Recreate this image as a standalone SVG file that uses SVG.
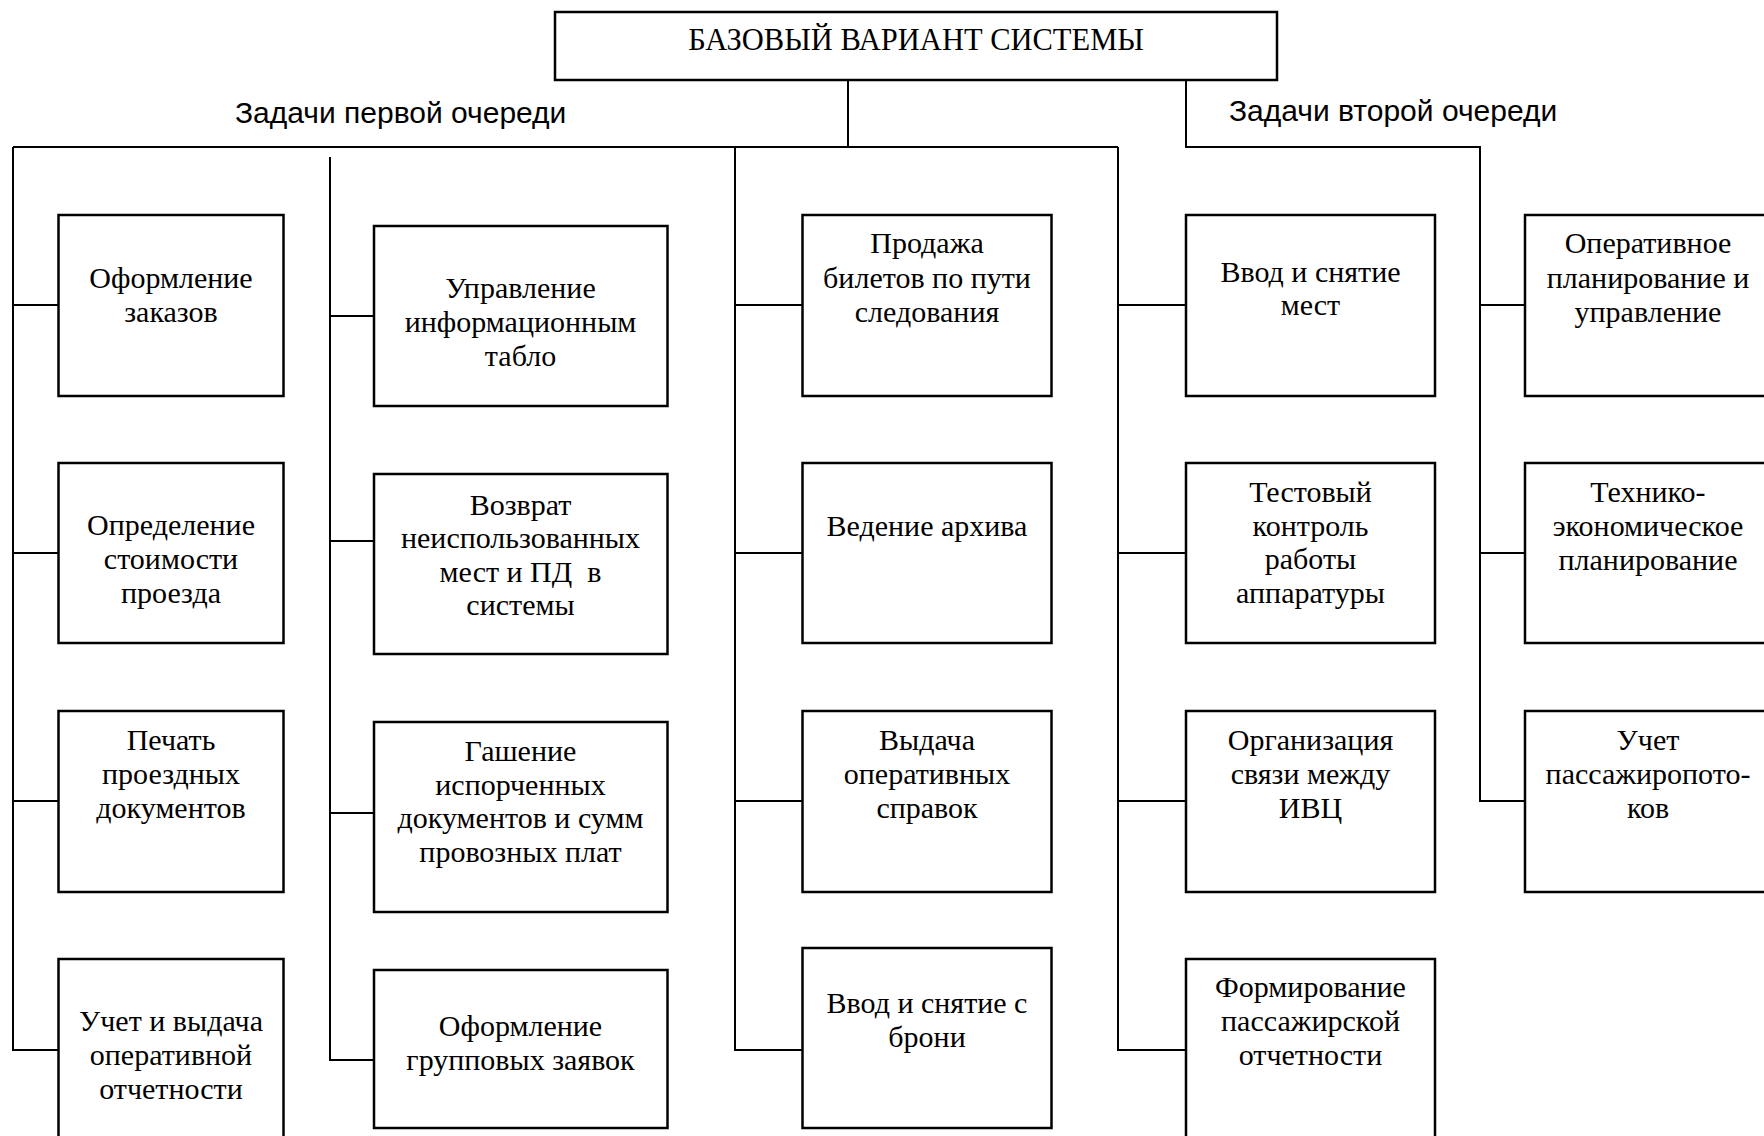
<svg xmlns="http://www.w3.org/2000/svg" width="1764" height="1136" viewBox="0 0 1764 1136">
<style>
.box{fill:#fff;stroke:#000;stroke-width:2.5}
.ln{fill:none;stroke:#000;stroke-width:2}
.t{font-family:"Liberation Serif","Times New Roman",serif;font-size:30px;text-anchor:middle;fill:#000}
.lbl{font-family:"Liberation Sans",Arial,sans-serif;font-size:30px;fill:#000}
</style>
<rect width="1764" height="1136" fill="#fff"/>
<g id="connectors">
<polyline class="ln" points="848,80 848,147"/>
<polyline class="ln" points="13,147 1118,147"/>
<polyline class="ln" points="1186,80 1186,147 1480,147 1480,801 1525,801"/>
<polyline class="ln" points="13,147 13,1050 58,1050"/>
<line class="ln" x1="13" y1="305" x2="58" y2="305"/>
<line class="ln" x1="13" y1="553" x2="58" y2="553"/>
<line class="ln" x1="13" y1="801" x2="58" y2="801"/>
<polyline class="ln" points="330,157 330,1060 374,1060"/>
<line class="ln" x1="330" y1="316" x2="374" y2="316"/>
<line class="ln" x1="330" y1="541" x2="374" y2="541"/>
<line class="ln" x1="330" y1="813" x2="374" y2="813"/>
<polyline class="ln" points="735,147 735,1050 802,1050"/>
<line class="ln" x1="735" y1="305" x2="802" y2="305"/>
<line class="ln" x1="735" y1="553" x2="802" y2="553"/>
<line class="ln" x1="735" y1="801" x2="802" y2="801"/>
<polyline class="ln" points="1118,147 1118,1050 1186,1050"/>
<line class="ln" x1="1118" y1="305" x2="1186" y2="305"/>
<line class="ln" x1="1118" y1="553" x2="1186" y2="553"/>
<line class="ln" x1="1118" y1="801" x2="1186" y2="801"/>
<line class="ln" x1="1480" y1="305" x2="1525" y2="305"/>
<line class="ln" x1="1480" y1="553" x2="1525" y2="553"/>
</g>
<text class="lbl" x="235" y="123">Задачи первой очереди</text>
<text class="lbl" x="1229" y="121">Задачи второй очереди</text>
<g id="root"><rect class="box" x="555" y="12" width="722" height="68"/><text class="t" x="916" y="50" style="font-size:30.5px">БАЗОВЫЙ ВАРИАНТ СИСТЕМЫ</text></g>

<g id="n1"><rect class="box" x="58.5" y="215" width="225" height="181"/><text class="t" x="171" y="288">Оформление</text><text class="t" x="171" y="322">заказов</text></g>
<g id="n2"><rect class="box" x="58.5" y="463" width="225" height="180"/><text class="t" x="171" y="535">Определение</text><text class="t" x="171" y="569">стоимости</text><text class="t" x="171" y="603">проезда</text></g>
<g id="n3"><rect class="box" x="58.5" y="711" width="225" height="181"/><text class="t" x="171" y="750">Печать</text><text class="t" x="171" y="784">проездных</text><text class="t" x="171" y="818">документов</text></g>
<g id="n4"><rect class="box" x="58.5" y="959" width="225" height="181"/><text class="t" x="171" y="1031">Учет и выдача</text><text class="t" x="171" y="1065">оперативной</text><text class="t" x="171" y="1099">отчетности</text></g>

<g id="n5"><rect class="box" x="374" y="226" width="293.5" height="180"/><text class="t" x="520.5" y="298">Управление</text><text class="t" x="520.5" y="332">информационным</text><text class="t" x="520.5" y="366">табло</text></g>
<g id="n6"><rect class="box" x="374" y="474" width="293.5" height="180"/><text class="t" x="520.5" y="515">Возврат</text><text class="t" x="520.5" y="548">неиспользованных</text><text class="t" x="520.5" y="582" xml:space="preserve">мест и ПД  в</text><text class="t" x="520.5" y="615">системы</text></g>
<g id="n7"><rect class="box" x="374" y="722" width="293.5" height="190"/><text class="t" x="520.5" y="761">Гашение</text><text class="t" x="520.5" y="795">испорченных</text><text class="t" x="520.5" y="828">документов и сумм</text><text class="t" x="520.5" y="862">провозных плат</text></g>
<g id="n8"><rect class="box" x="374" y="970" width="293.5" height="158"/><text class="t" x="520.5" y="1036">Оформление</text><text class="t" x="520.5" y="1070">групповых заявок</text></g>

<g id="n9"><rect class="box" x="802.5" y="215" width="249" height="181"/><text class="t" x="927" y="253">Продажа</text><text class="t" x="927" y="288">билетов по пути</text><text class="t" x="927" y="322">следования</text></g>
<g id="n10"><rect class="box" x="802.5" y="463" width="249" height="180"/><text class="t" x="927" y="536">Ведение архива</text></g>
<g id="n11"><rect class="box" x="802.5" y="711" width="249" height="181"/><text class="t" x="927" y="750">Выдача</text><text class="t" x="927" y="784">оперативных</text><text class="t" x="927" y="818">справок</text></g>
<g id="n12"><rect class="box" x="802.5" y="948" width="249" height="180"/><text class="t" x="927" y="1013">Ввод и снятие с</text><text class="t" x="927" y="1047">брони</text></g>

<g id="n13"><rect class="box" x="1186" y="215" width="249" height="181"/><text class="t" x="1310.5" y="282">Ввод и снятие</text><text class="t" x="1310.5" y="315">мест</text></g>
<g id="n14"><rect class="box" x="1186" y="463" width="249" height="180"/><text class="t" x="1310.5" y="502">Тестовый</text><text class="t" x="1310.5" y="536">контроль</text><text class="t" x="1310.5" y="569">работы</text><text class="t" x="1310.5" y="603">аппаратуры</text></g>
<g id="n15"><rect class="box" x="1186" y="711" width="249" height="181"/><text class="t" x="1310.5" y="750">Организация</text><text class="t" x="1310.5" y="784">связи между</text><text class="t" x="1310.5" y="818">ИВЦ</text></g>
<g id="n16"><rect class="box" x="1186" y="959" width="249" height="181"/><text class="t" x="1310.5" y="997">Формирование</text><text class="t" x="1310.5" y="1031">пассажирской</text><text class="t" x="1310.5" y="1065">отчетности</text></g>

<g id="n17"><rect class="box" x="1525" y="215" width="248" height="181"/><text class="t" x="1648" y="253">Оперативное</text><text class="t" x="1648" y="288">планирование и</text><text class="t" x="1648" y="322">управление</text></g>
<g id="n18"><rect class="box" x="1525" y="463" width="248" height="180"/><text class="t" x="1648" y="502">Технико-</text><text class="t" x="1648" y="536">экономическое</text><text class="t" x="1648" y="570">планирование</text></g>
<g id="n19"><rect class="box" x="1525" y="711" width="248" height="181"/><text class="t" x="1648" y="750">Учет</text><text class="t" x="1648" y="784">пассажиропото-</text><text class="t" x="1648" y="818">ков</text></g>
</svg>
